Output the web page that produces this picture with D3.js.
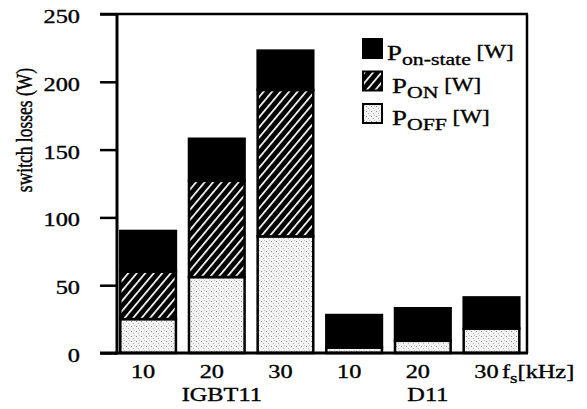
<!DOCTYPE html>
<html>
<head>
<meta charset="utf-8">
<script src="https://cdn.jsdelivr.net/npm/d3@7"></script>
<style>
  body { margin: 0; background: #fff; }
  svg { display: block; }
  text { font-family: "Liberation Serif", "Times New Roman", serif; fill: #000; stroke: #000; stroke-width: 0.35px; }
</style>
</head>
<body>
<svg id="chart" width="587" height="409"></svg>
<script>
// data
const freqs    = ['10', '20', '30', '10', '20', '30'];
const devices  = ['IGBT11', 'IGBT11', 'IGBT11', 'D11', 'D11', 'D11'];
const pOff     = [25, 56, 86, 4, 9, 18];
const pOn      = [35, 71, 108, 0, 0, 0];
const pOnState = [30, 31, 29, 24, 24, 23];
const yTicks   = [0, 50, 100, 150, 200, 250];

const SX = 1.28; // the scanned lettering is wider than normal

const svg = d3.select('#chart');

// plot frame
const LEFT = 117, RIGHT = 527, TOP = 14, BOTTOM = 353;

const x = d3.scaleBand()
  .domain(d3.range(freqs.length))
  .range([LEFT, RIGHT])
  .paddingInner(0.19)
  .paddingOuter(0.08)
  .align(0.3);

const y = d3.scaleLinear()
  .domain([0, 250])
  .range([BOTTOM, TOP]);

// patterns
const defs = svg.append('defs');

const hatch = defs.append('pattern')
  .attr('id', 'hatch')
  .attr('patternUnits', 'userSpaceOnUse')
  .attr('width', 6.5)
  .attr('height', 6.5)
  .attr('patternTransform', 'rotate(40)');
hatch.append('rect').attr('width', 6.5).attr('height', 6.5).attr('fill', '#000');
hatch.append('rect').attr('x', 0).attr('width', 1.7).attr('height', 6.5).attr('fill', '#fff');

const dots = defs.append('pattern')
  .attr('id', 'dots')
  .attr('patternUnits', 'userSpaceOnUse')
  .attr('width', 5)
  .attr('height', 5);
dots.append('rect').attr('width', 5).attr('height', 5).attr('fill', '#f3f3f3');
dots.append('rect').attr('x', 1).attr('y', 1).attr('width', 1).attr('height', 1).attr('fill', '#8a8a8a');
dots.append('rect').attr('x', 3).attr('y', 3).attr('width', 1).attr('height', 1).attr('fill', '#b0b0b0');
dots.append('rect').attr('x', 4).attr('y', 0).attr('width', 1).attr('height', 1).attr('fill', '#c8c8c8');

// stacked segments, bottom to top
const series = [
  { key: 'off', vals: pOff, fill: 'url(#dots)' },
  { key: 'on', vals: pOn, fill: 'url(#hatch)' },
  { key: 'onstate', vals: pOnState, fill: '#000' }
];

const bars = svg.append('g');
freqs.forEach((f, i) => {
  let base = 0;
  series.forEach(s => {
    const v = s.vals[i];
    if (v > 0) {
      bars.append('rect')
        .attr('x', x(i))
        .attr('y', y(base + v))
        .attr('width', x.bandwidth())
        .attr('height', y(base) - y(base + v))
        .attr('fill', s.fill)
        .attr('stroke', '#000')
        .attr('stroke-width', 2.5);
    }
    base += v;
  });
});

// y axis
const yAxis = svg.append('g')
  .attr('transform', `translate(${LEFT},0)`)
  .call(d3.axisLeft(y).tickValues(yTicks).tickSize(17).tickSizeOuter(0));
yAxis.select('.domain').remove();
yAxis.selectAll('line').attr('stroke', '#000').attr('stroke-width', 2.5);
yAxis.selectAll('text')
  .attr('font-size', 19)
  .attr('font-family', '"Liberation Serif", serif')
  .attr('x', -37 / SX)
  .attr('dy', null)
  .attr('y', 8.5)
  .attr('transform', `scale(${SX},1)`);

// x axis (labels only)
const xAxis = svg.append('g')
  .attr('transform', `translate(0,${BOTTOM})`)
  .call(d3.axisBottom(x).tickFormat(i => freqs[i]).tickSize(0));
xAxis.select('.domain').remove();
xAxis.selectAll('text')
  .attr('font-size', 19)
  .attr('font-family', '"Liberation Serif", serif')
  .attr('dy', null)
  .attr('y', 25)
  .attr('x', -5 / SX)
  .attr('transform', `scale(${SX},1)`);

// frame lines
const frame = svg.append('g').attr('stroke', '#000').attr('fill', 'none');
frame.append('line').attr('x1', LEFT).attr('x2', LEFT).attr('y1', TOP - 1).attr('y2', BOTTOM + 1.5).attr('stroke-width', 3);
frame.append('line').attr('x1', 100).attr('x2', RIGHT + 1).attr('y1', TOP).attr('y2', TOP).attr('stroke-width', 2.5);
frame.append('line').attr('x1', RIGHT).attr('x2', RIGHT).attr('y1', TOP).attr('y2', BOTTOM).attr('stroke-width', 2.5);
frame.append('line').attr('x1', 100).attr('x2', RIGHT + 1).attr('y1', BOTTOM).attr('y2', BOTTOM).attr('stroke-width', 3);

// helper for stretched text
function label(px, py, size, anchor) {
  return svg.append('g')
    .attr('transform', `translate(${px},${py}) scale(${SX},1)`)
    .append('text')
    .attr('font-size', size)
    .attr('text-anchor', anchor || 'start');
}

// group labels under the frequencies
const groups = Array.from(new Set(devices));
groups.forEach(g => {
  const idx = devices.map((d, i) => d === g ? i : -1).filter(i => i >= 0);
  const mid = idx[Math.floor(idx.length / 2)];
  label(x(mid) + x.bandwidth() / 2 + 5, 401, 19, 'middle').text(g);
});

// x unit
const fs = label(502, 378, 19);
fs.append('tspan').text('f');
fs.append('tspan').attr('font-size', 15).attr('dy', 5).text('s');
fs.append('tspan').attr('dy', -5).text('[kHz]');

// y title
svg.append('text')
  .attr('transform', `translate(32,130) rotate(-90) scale(1,${SX})`)
  .attr('text-anchor', 'middle')
  .attr('font-size', 17.5)
  .text('switch losses (W)');

// legend
const legendItems = [
  { fill: '#000', sub: 'on-state', x: 387 },
  { fill: 'url(#hatch)', sub: 'ON', x: 392 },
  { fill: 'url(#dots)', sub: 'OFF', x: 392 }
];
legendItems.forEach((d, i) => {
  const ly = 39 + i * 32.5;
  svg.append('rect')
    .attr('x', 363).attr('y', ly)
    .attr('width', 19).attr('height', 19)
    .attr('fill', d.fill)
    .attr('stroke', '#000').attr('stroke-width', 2);
  const t = label(d.x, ly + 21, 21);
  t.append('tspan').text('P');
  t.append('tspan').attr('font-size', 17).attr('dy', 5).text(d.sub);
  t.append('tspan').attr('font-size', 18).attr('dy', -7).text(' [W]');
});
</script>
</body>
</html>
